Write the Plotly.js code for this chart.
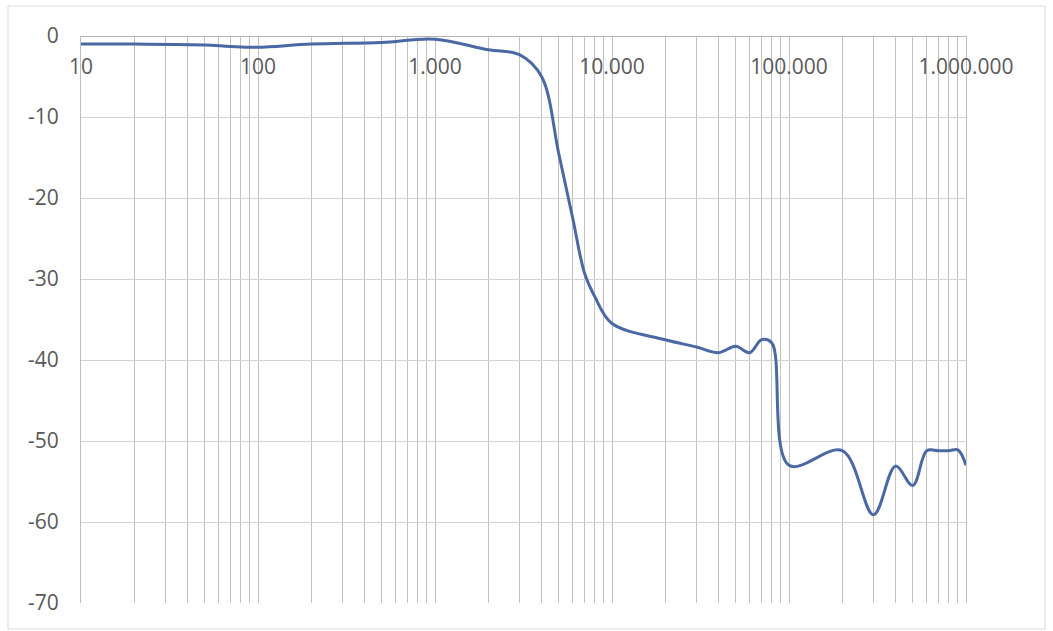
<!DOCTYPE html>
<html>
<head>
<meta charset="utf-8">
<script src="https://cdn.plot.ly/plotly-3.0.1.min.js"></script>
<style>
  html, body { margin: 0; padding: 0; background: #ffffff; }
  #chart { width: 1053px; height: 631px; }
</style>
</head>
<body>
<div id="chart"></div>
<script>
// Frequency response: frequency (Hz) and gain (dB)
const freq = [10, 20, 50, 70, 100, 200, 500, 1000, 2000, 3000, 4000, 5000, 6000, 7000, 8000,
              10000, 20000, 30000, 40000, 50000, 60000, 70000, 80000, 100000,
              200000, 300000, 400000, 500000, 600000, 700000, 800000, 900000, 1000000];
const gainDb = [-1.0, -1.0, -1.1, -1.3, -1.4, -1.0, -0.8, -0.4, -1.7, -2.3, -5.0, -14.5, -22.5, -29.3, -32.2,
                -35.5, -37.5, -38.4, -39.1, -38.3, -39.1, -37.5, -37.9, -53.0,
                -51.2, -59.1, -53.1, -55.5, -51.2, -51.2, -51.2, -51.1, -53.0];

// Decade tick labels (dot as thousands separator)
const decades = [10, 100, 1000, 10000, 100000, 1000000];
const decadeLabels = ['10', '100', '1.000', '10.000', '100.000', '1.000.000'];

// Log gridlines: every 1..9 step within each decade, labels only on decades
const gridVals = [];
const gridText = [];
decades.forEach((d, i) => {
  const steps = (i === decades.length - 1) ? 1 : 9;
  for (let m = 1; m <= steps; m++) {
    gridVals.push(d * m);
    gridText.push(m === 1 ? decadeLabels[i] : '');
  }
});

const yTicks = [0, -10, -20, -30, -40, -50, -60, -70];

const trace = {
  x: freq,
  y: gainDb,
  type: 'scatter',
  mode: 'lines',
  line: { color: '#4a68a3', width: 3, shape: 'spline', smoothing: 1 },
  hoverinfo: 'skip'
};

const textFont = { family: 'Open Sans, sans-serif', size: 21, color: '#595959' };

const layout = {
  width: 1053,
  height: 631,
  margin: { l: 81, r: 87, t: 36, b: 28 },
  paper_bgcolor: '#ffffff',
  plot_bgcolor: '#ffffff',
  showlegend: false,
  hovermode: false,
  xaxis: {
    type: 'log',
    range: [1, 6],
    anchor: 'free',
    position: 1,
    side: 'bottom',
    tickmode: 'array',
    tickvals: gridVals,
    ticktext: gridText,
    ticks: '',
    ticklabelstandoff: 12,
    tickfont: textFont,
    showgrid: true,
    gridcolor: '#c2c2c2',
    gridwidth: 1,
    showline: true,
    linecolor: '#b5b5b5',
    linewidth: 1,
    zeroline: false,
    fixedrange: true
  },
  yaxis: {
    range: [-70, 0],
    tickmode: 'array',
    tickvals: yTicks,
    ticktext: yTicks.map(String),
    ticks: '',
    ticklabelstandoff: 17,
    tickfont: textFont,
    showgrid: true,
    gridcolor: '#d2d2d2',
    gridwidth: 1,
    showline: true,
    linecolor: '#bdbdbd',
    linewidth: 1,
    mirror: true,
    zeroline: false,
    fixedrange: true
  },
  shapes: [
    {
      type: 'rect', xref: 'paper', yref: 'paper',
      x0: (8 - 81) / 885, x1: (1045 - 81) / 885,
      y0: (603 - 629) / 567, y1: (603 - 6) / 567,
      line: { color: '#d9d9d9', width: 1 },
      fillcolor: 'rgba(0,0,0,0)',
      layer: 'below'
    }
  ]
};

Plotly.newPlot('chart', [trace], layout, { displayModeBar: false, staticPlot: true });
</script>
</body>
</html>
